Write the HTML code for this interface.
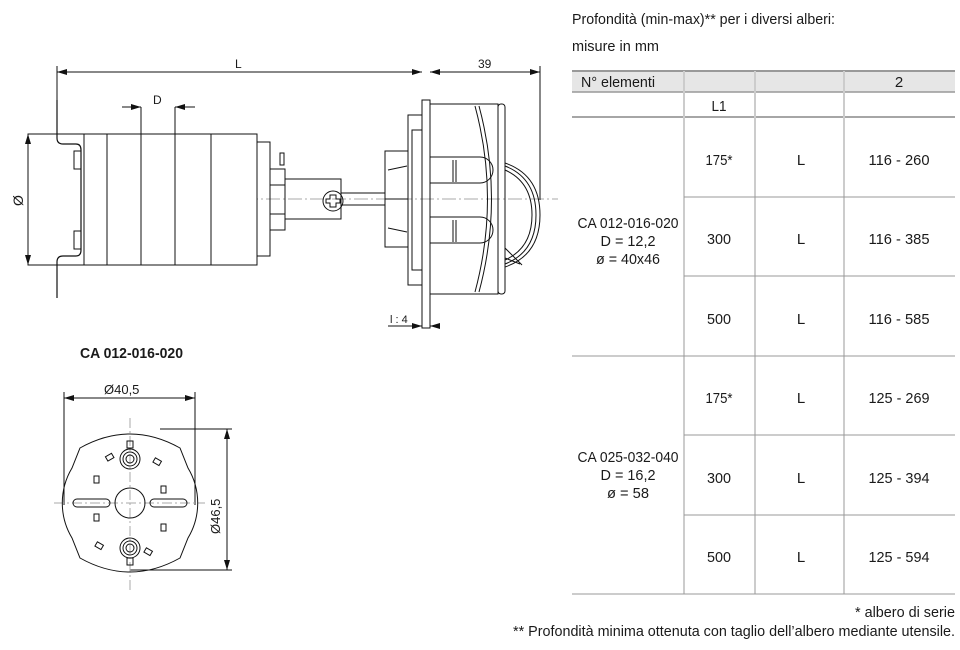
<!DOCTYPE html>
<html><head><meta charset="utf-8"><style>
html,body{margin:0;padding:0;background:#fff;}
body{width:960px;height:650px;overflow:hidden;position:relative;}
svg{position:absolute;left:0;top:0;}
text{font-family:"Liberation Sans",sans-serif;fill:#1a1a1a;}
</style></head><body>
<svg width="960" height="650" viewBox="0 0 960 650" xmlns="http://www.w3.org/2000/svg">
<defs>
<marker id="a" viewBox="0 0 10 6" refX="10" refY="3" markerWidth="10" markerHeight="6" orient="auto-start-reverse" markerUnits="userSpaceOnUse"><path d="M0,0 L10,3 L0,6 Z" fill="#111"/></marker>
</defs>
<g stroke="#111" stroke-width="1" fill="none">
<line x1="68" y1="199" x2="558" y2="199" stroke="#aaa" stroke-dasharray="14,3,2,3"/>
<line x1="57" y1="72" x2="422" y2="72" marker-start="url(#a)" marker-end="url(#a)"/>
<line x1="57" y1="66" x2="57" y2="100"/>
<line x1="430" y1="72" x2="540" y2="72" marker-start="url(#a)" marker-end="url(#a)"/>
<line x1="540" y1="66" x2="540" y2="200"/>
<rect x="28" y="134" width="229" height="131" fill="#fff"/>
<rect x="74" y="151" width="7" height="18"/><rect x="74" y="231" width="7" height="18"/>
<line x1="84" y1="134" x2="84" y2="265"/><line x1="107" y1="134" x2="107" y2="265"/>
<line x1="141" y1="134" x2="141" y2="265"/><line x1="175" y1="134" x2="175" y2="265"/>
<line x1="211" y1="134" x2="211" y2="265"/>
<path d="M57 100 V138 Q57 144 63 144 H76 Q81 144 81 150 V250 Q81 256 76 256 H63 Q57 256 57 262 V298" stroke-width="1.2"/>
<rect x="257" y="142" width="13" height="114"/>
<line x1="28" y1="134" x2="28" y2="265" marker-start="url(#a)" marker-end="url(#a)"/>
<line x1="122" y1="107" x2="141" y2="107" marker-end="url(#a)"/>
<line x1="195" y1="107" x2="175" y2="107" marker-end="url(#a)"/>
<line x1="141" y1="107" x2="141" y2="134"/><line x1="175" y1="107" x2="175" y2="134"/>
<rect x="270" y="169" width="15" height="61"/>
<rect x="280" y="153" width="4" height="12"/>
<line x1="270" y1="185" x2="285" y2="185"/><line x1="270" y1="214" x2="285" y2="214"/>
<rect x="285" y="179" width="56" height="40"/>
<circle cx="333" cy="201" r="10"/>
<path d="M330 195h6v4h4v4h-4v4h-6v-4h-4v-4h4z"/>
<rect x="341" y="193" width="44" height="12"/>
<rect x="385" y="151" width="23" height="96"/>
<path d="M388 170 L407 166 M388 228 L407 232"/>
<line x1="385" y1="199" x2="408" y2="199"/>
<rect x="408" y="115" width="14" height="170"/>
<rect x="412" y="130" width="10" height="140"/>
<rect x="422" y="100" width="8" height="228"/>
<rect x="430" y="104" width="68" height="190"/>
<rect x="498" y="104" width="7" height="190" rx="3"/>
<path d="M475 106 Q500 199 475 292"/>
<path d="M479 106 Q504 199 479 292"/>
<path d="M430 157 H480 A13 13 0 0 1 480 183 H430"/>
<path d="M430 217 H480 A13 13 0 0 1 480 243 H430"/>
<line x1="453" y1="160" x2="453" y2="182"/><line x1="456" y1="160" x2="456" y2="182"/>
<line x1="453" y1="220" x2="453" y2="242"/><line x1="456" y1="220" x2="456" y2="242"/>
<path d="M505 163 Q540 175 540 215 Q540 255 505 267"/>
<path d="M505 166 Q536 178 536 215 Q536 252 505 264"/>
<path d="M505 170 Q532 182 532 215 Q532 248 505 260"/>
<path d="M505 248 L522 265 M505 258 L520 264"/>
<line x1="415" y1="326" x2="422" y2="326" marker-end="url(#a)"/>
<line x1="440" y1="326" x2="430" y2="326" marker-end="url(#a)"/>
<line x1="388" y1="326" x2="415" y2="326"/>
</g>
<text x="235" y="68" font-size="12">L</text>
<text x="153" y="104" font-size="12">D</text>
<text x="478" y="68" font-size="12">39</text>
<text x="390" y="323" font-size="11">l : 4</text>
<text x="0" y="0" font-size="14" transform="translate(23,206) rotate(-90)">Ø</text>

<text x="80" y="358" font-size="15" font-weight="bold" textLength="103" lengthAdjust="spacingAndGlyphs">CA 012-016-020</text>
<g stroke="#111" stroke-width="1" fill="none">
<line x1="64" y1="398" x2="195" y2="398" marker-start="url(#a)" marker-end="url(#a)"/>
<line x1="64" y1="392" x2="64" y2="505"/><line x1="195" y1="392" x2="195" y2="505"/>
<line x1="227" y1="429" x2="227" y2="570" marker-start="url(#a)" marker-end="url(#a)"/>
<line x1="160" y1="429" x2="232" y2="429"/><line x1="130" y1="570" x2="232" y2="570"/>
<line x1="130" y1="418" x2="130" y2="590" stroke="#aaa" stroke-dasharray="10,3,2,3"/>
<line x1="54" y1="503" x2="205" y2="503" stroke="#aaa" stroke-dasharray="10,3,2,3"/>
<path d="M80 448 Q130 420 180 448 L188 468 A68 68 0 0 1 188 538 L180 558 Q130 586 80 558 L72 538 A68 68 0 0 1 72 468 Z"/>
<circle cx="130" cy="503" r="15"/>
<rect x="73" y="499" width="37" height="8" rx="4"/>
<rect x="150" y="499" width="37" height="8" rx="4"/>
<circle cx="130" cy="459" r="10"/><circle cx="130" cy="459" r="7"/><circle cx="130" cy="459" r="4"/>
<circle cx="130" cy="548" r="10"/><circle cx="130" cy="548" r="7"/><circle cx="130" cy="548" r="4"/>
<rect x="127" y="441" width="6" height="7"/><rect x="127" y="558" width="6" height="7"/>
<rect x="94" y="476" width="5" height="7"/><rect x="161" y="486" width="5" height="7"/>
<rect x="94" y="514" width="5" height="7"/><rect x="161" y="524" width="5" height="7"/>
<rect x="106" y="455" width="7" height="5" transform="rotate(-30 109 457)"/>
<rect x="154" y="459" width="7" height="5" transform="rotate(30 157 461)"/>
<rect x="96" y="543" width="7" height="5" transform="rotate(30 99 545)"/>
<rect x="145" y="549" width="7" height="5" transform="rotate(30 148 551)"/>
</g>
<text x="104" y="394" font-size="13">Ø40,5</text>
<text font-size="13" transform="translate(220,534) rotate(-90)">Ø46,5</text>

<text x="572" y="24" font-size="15" textLength="263" lengthAdjust="spacingAndGlyphs">Profondità (min-max)** per i diversi alberi:</text>
<text x="572" y="51" font-size="15" textLength="87" lengthAdjust="spacingAndGlyphs">misure in mm</text>
<rect x="572" y="71" width="383" height="21" fill="#e6e6e6"/>
<line x1="572" y1="71" x2="955" y2="71" stroke="#999" stroke-width="2"/>
<line x1="572" y1="92" x2="955" y2="92" stroke="#999" stroke-width="1.5"/>
<line x1="572" y1="117" x2="955" y2="117" stroke="#888" stroke-width="1.5"/>
<g stroke="#ccc" stroke-width="2">
<line x1="684" y1="71" x2="684" y2="594"/><line x1="755" y1="71" x2="755" y2="594"/><line x1="844" y1="71" x2="844" y2="594"/>
</g>
<g stroke="#999" stroke-width="1">
<line x1="684" y1="197" x2="955" y2="197"/><line x1="684" y1="276" x2="955" y2="276"/>
<line x1="684" y1="435" x2="955" y2="435"/><line x1="684" y1="515" x2="955" y2="515"/>
<line x1="572" y1="356" x2="955" y2="356"/><line x1="572" y1="594" x2="955" y2="594"/>
</g>
<g font-size="15" text-anchor="middle" lengthAdjust="spacingAndGlyphs">
<text x="618" y="87" textLength="74" lengthAdjust="spacingAndGlyphs">N° elementi</text>
<text x="899" y="87">2</text>
<text x="719" y="111" textLength="15" lengthAdjust="spacingAndGlyphs">L1</text>
<text x="719" y="165" textLength="27" lengthAdjust="spacingAndGlyphs">175*</text><text x="801" y="165">L</text><text x="899" y="165" textLength="61" lengthAdjust="spacingAndGlyphs">116 - 260</text>
<text x="719" y="244" textLength="24" lengthAdjust="spacingAndGlyphs">300</text><text x="801" y="244">L</text><text x="899" y="244" textLength="61" lengthAdjust="spacingAndGlyphs">116 - 385</text>
<text x="719" y="324" textLength="24" lengthAdjust="spacingAndGlyphs">500</text><text x="801" y="324">L</text><text x="899" y="324" textLength="61" lengthAdjust="spacingAndGlyphs">116 - 585</text>
<text x="719" y="403" textLength="27" lengthAdjust="spacingAndGlyphs">175*</text><text x="801" y="403">L</text><text x="899" y="403" textLength="61" lengthAdjust="spacingAndGlyphs">125 - 269</text>
<text x="719" y="483" textLength="24" lengthAdjust="spacingAndGlyphs">300</text><text x="801" y="483">L</text><text x="899" y="483" textLength="61" lengthAdjust="spacingAndGlyphs">125 - 394</text>
<text x="719" y="562" textLength="24" lengthAdjust="spacingAndGlyphs">500</text><text x="801" y="562">L</text><text x="899" y="562" textLength="61" lengthAdjust="spacingAndGlyphs">125 - 594</text>
<text x="628" y="228" textLength="101" lengthAdjust="spacingAndGlyphs">CA 012-016-020</text>
<text x="628" y="246" textLength="55" lengthAdjust="spacingAndGlyphs">D = 12,2</text>
<text x="628" y="264" textLength="64" lengthAdjust="spacingAndGlyphs">ø = 40x46</text>
<text x="628" y="462" textLength="101" lengthAdjust="spacingAndGlyphs">CA 025-032-040</text>
<text x="628" y="480" textLength="55" lengthAdjust="spacingAndGlyphs">D = 16,2</text>
<text x="628" y="498" textLength="42" lengthAdjust="spacingAndGlyphs">ø = 58</text>
</g>
<text x="855" y="617" font-size="15" textLength="100" lengthAdjust="spacingAndGlyphs">* albero di serie</text>
<text x="513" y="636" font-size="15" textLength="442" lengthAdjust="spacingAndGlyphs">** Profondità minima ottenuta con taglio dell’albero mediante utensile.</text>
</svg>
</body></html>
